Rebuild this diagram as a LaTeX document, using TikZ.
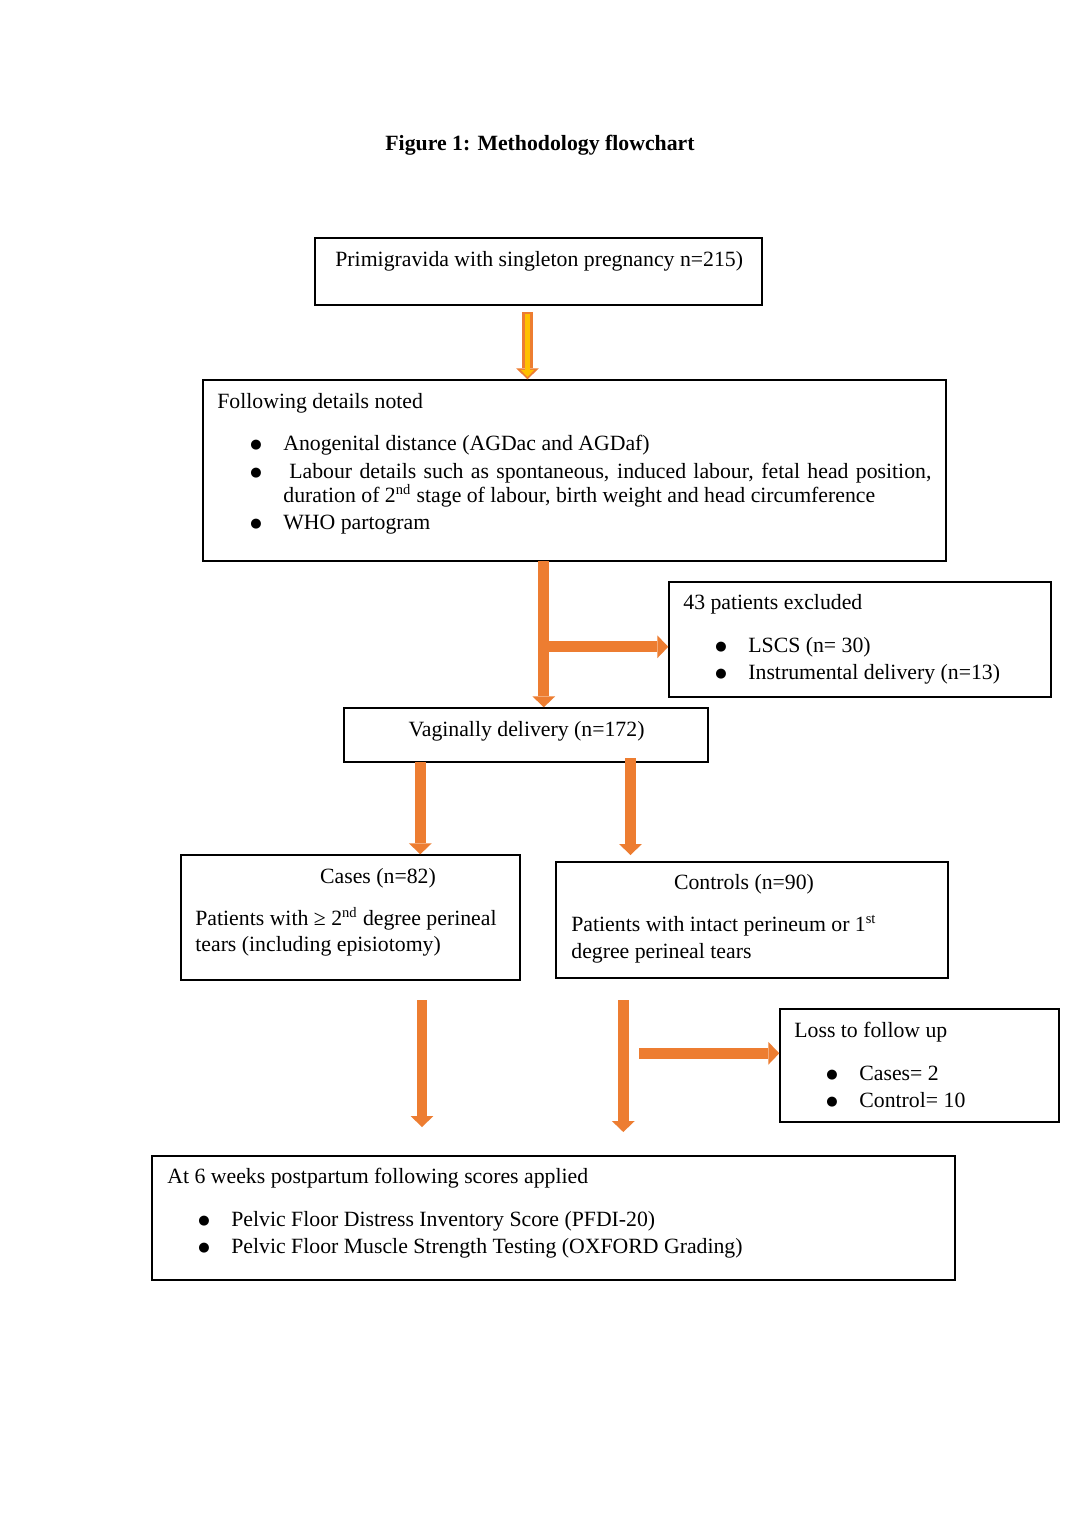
\documentclass[tikz,border=0pt]{standalone}
\usepackage{fontspec}
\setmainfont{Liberation Serif}
\newfontfamily\bulfont{DejaVu Sans}
\usetikzlibrary{arrows.meta,fit}
\definecolor{orangeC}{HTML}{ED7D31}
\definecolor{yellowC}{HTML}{FFC000}
\begin{document}
\begin{tikzpicture}[x=0.5512pt,y=-0.5512pt,
  box/.style={draw=black,line width=0.8pt,inner sep=0pt,fill=none},
  txt/.style={inner sep=0pt,anchor=base west,yshift=-0.55pt,font=\fontsize{12}{14}\selectfont},
  ctxt/.style={inner sep=0pt,anchor=base,yshift=-0.55pt,font=\fontsize{12}{14}\selectfont},
  bul/.style={inner sep=0pt,anchor=base,yshift=0.55pt,font=\bulfont\fontsize{7.2}{8}\selectfont},
  arr/.style={draw=orangeC,line width=6pt,-{Triangle[width=12.5pt,length=6pt,line width=0pt]}},
  yarr/.style={draw=yellowC,line width=3pt,-{Triangle[width=7.5pt,length=4pt,line width=0pt]}}]
\useasboundingbox[fill=white] (0,0) rectangle (1080,1527);

% title
\node (title) [ctxt,font=\fontsize{12}{14}\selectfont\bfseries] at (540,149) {Figure 1: Methodology flowchart};

% boxes
\node (prim) [box,fit={(315,238)(762,305)}] {};
\node (det) [box,fit={(203,380)(946,561)}] {};
\node (exc) [box,fit={(669,582)(1051,697)}] {};
\node (vag) [box,fit={(344,708)(708,762)}] {};
\node (cases) [box,fit={(181,855)(520,980)}] {};
\node (ctrl) [box,fit={(556,862)(948,978)}] {};
\node (loss) [box,fit={(780,1009)(1059,1122)}] {};
\node (fin) [box,fit={(152,1156)(955,1280)}] {};

% texts
\node (tprim) [txt] at (335,265) {Primigravida with singleton pregnancy n=215)};

\node (tdet) [txt] at (217,407) {Following details noted};
\node (bd1) [bul] at (256,449) {●};
\node (td1) [txt] at (283,449) {Anogenital distance (AGDac and AGDaf)};
\node (bd2) [bul] at (256,477) {●};
\node (td2) [txt] at (289,477) {\makebox[353.9pt][s]{Labour details such as spontaneous, induced labour, fetal head position,}};
\node (td2b) [txt] at (283,501) {duration of 2\textsuperscript{nd} stage of labour, birth weight and head circumference};
\node (bd3) [bul] at (256,528) {●};
\node (td3) [txt] at (283,528) {WHO partogram};

\node (texc) [txt] at (683,608) {43 patients excluded};
\node (be1) [bul] at (721,651) {●};
\node (te1) [txt] at (748,651) {LSCS (n= 30)};
\node (be2) [bul] at (721,678) {●};
\node (te2) [txt] at (748,678) {Instrumental delivery (n=13)};

\node (tvag) [ctxt] at (526.5,735) {Vaginally delivery (n=172)};

\node (tcases) [ctxt] at (378,882) {Cases (n=82)};
\node (tc1) [txt] at (195,924) {Patients with ≥ 2\textsuperscript{nd} degree perineal};
\node (tc2) [txt] at (195,950) {tears (including episiotomy)};

\node (tctrl) [ctxt] at (744,888) {Controls (n=90)};
\node (tk1) [txt] at (571,930) {Patients with intact perineum or 1\textsuperscript{st}};
\node (tk2) [txt] at (571,957) {degree perineal tears};

\node (tloss) [txt] at (794,1036) {Loss to follow up};
\node (bl1) [bul] at (832,1079) {●};
\node (tl1) [txt] at (859,1079) {Cases= 2};
\node (bl2) [bul] at (832,1106) {●};
\node (tl2) [txt] at (859,1106) {Control= 10};

\node (tfin) [txt] at (167,1182) {At 6 weeks postpartum following scores applied};
\node (bf1) [bul] at (204,1225) {●};
\node (tf1) [txt] at (231,1225) {Pelvic Floor Distress Inventory Score (PFDI-20)};
\node (bf2) [bul] at (204,1252) {●};
\node (tf2) [txt] at (231,1252) {Pelvic Floor Muscle Strength Testing (OXFORD Grading)};

% connectors
\coordinate (a1s) at (527.5,312);
\draw[arr] (a1s) -- (a1s |- det.north);
\coordinate (a1y) at (527.5,314);
\coordinate (a1ye) at (527.5,377);
\draw[yarr] (a1y) -- (a1ye);

\coordinate (a2s) at (543.8,561);
\draw[arr] (a2s) -- (a2s |- vag.north);
\coordinate (br) at (547,646.8);
\draw[arr] (br) -- (br -| exc.west);

\coordinate (a3l) at (420.3,762);
\draw[arr] (a3l) -- (a3l |- cases.north);
\coordinate (a3r) at (630.5,758);
\coordinate (a3re) at (630.5,855);
\draw[arr] (a3r) -- (a3re);

\coordinate (a4l) at (422,1000);
\coordinate (a4le) at (422,1127);
\draw[arr] (a4l) -- (a4le);
\coordinate (a4m) at (623.3,1000);
\coordinate (a4me) at (623.3,1132);
\draw[arr] (a4m) -- (a4me);
\coordinate (h4) at (639,1053.3);
\draw[arr] (h4) -- (h4 -| loss.west);
\end{tikzpicture}
\end{document}
